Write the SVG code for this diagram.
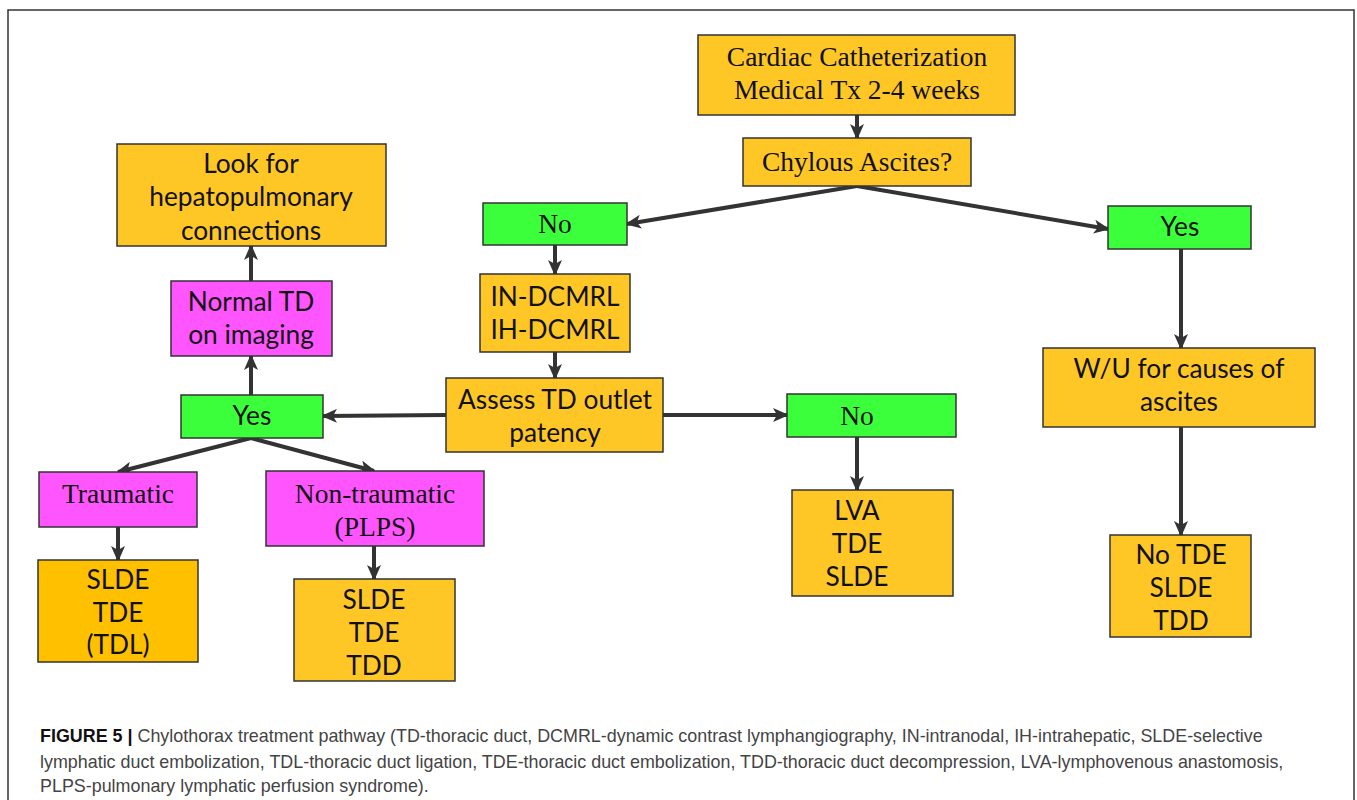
<svg xmlns="http://www.w3.org/2000/svg" width="1357" height="800" viewBox="0 0 1357 800">
<defs>
<marker id="ah" markerUnits="userSpaceOnUse" markerWidth="16" markerHeight="14" refX="14" refY="7" orient="auto">
<path d="M0,0 L16,7 L0,14 L4,7 Z" fill="#333"/>
</marker>
</defs>
<style>
.o{fill:#FFC726;stroke:#333;stroke-width:1.5}
.o2{fill:#FFC000;stroke:#333;stroke-width:1.5}
.g{fill:#3CFF3C;stroke:#333;stroke-width:1.5}
.m{fill:#FF55FF;stroke:#333;stroke-width:1.5}
.s{font-family:"Liberation Serif","Times New Roman",serif;font-size:27.5px;fill:#111;text-anchor:middle}
.a{font-family:Lato,"Open Sans",sans-serif;font-size:26.3px;fill:#111;text-anchor:middle}
.c{stroke:#333;stroke-width:4;fill:none;marker-end:url(#ah)}
.cap{font-family:"Liberation Sans",Arial,sans-serif;font-size:17.9px;fill:#444}
</style>
<rect x="0" y="0" width="1357" height="800" fill="#fff"/>
<rect x="8" y="10" width="1346" height="800" fill="none" stroke="#333" stroke-width="1.5"/>

<g id="connectors">
<line class="c" x1="857" y1="115" x2="857" y2="138"/>
<line class="c" x1="857" y1="186" x2="627" y2="224"/>
<line class="c" x1="857" y1="186" x2="1108" y2="229"/>
<line class="c" x1="555" y1="245" x2="555" y2="274"/>
<line class="c" x1="555" y1="352" x2="555" y2="378"/>
<line class="c" x1="446" y1="415" x2="323" y2="416"/>
<line class="c" x1="663" y1="415" x2="787" y2="415"/>
<line class="c" x1="857" y1="437" x2="857" y2="490"/>
<line class="c" x1="1181" y1="249" x2="1181" y2="348"/>
<line class="c" x1="1181" y1="427" x2="1181" y2="535"/>
<line class="c" x1="251" y1="395" x2="251" y2="356"/>
<line class="c" x1="251" y1="281" x2="251" y2="246"/>
<line class="c" x1="251" y1="438" x2="118" y2="472"/>
<line class="c" x1="251" y1="438" x2="374" y2="471"/>
<line class="c" x1="118" y1="527" x2="118" y2="560"/>
<line class="c" x1="374" y1="546" x2="374" y2="579"/>
</g>

<g id="cardiac"><rect class="o" x="698" y="35" width="317" height="80"/>
<text class="s" x="857" y="66">Cardiac Catheterization</text><text class="s" x="857" y="99">Medical Tx 2-4 weeks</text></g>

<g id="chylous"><rect class="o" x="743" y="138" width="228" height="48"/>
<text class="s" x="857" y="171">Chylous Ascites?</text></g>

<g id="no-top"><rect class="g" x="483" y="203" width="144" height="42"/>
<text class="s" x="555" y="233">No</text></g>

<g id="yes-right"><rect class="g" x="1108" y="206" width="143" height="43"/>
<text class="a" x="1180" y="236">Yes</text></g>

<g id="in-dcmrl"><rect class="o" x="480" y="274" width="150" height="78"/>
<text class="a" x="555" y="306">IN-DCMRL</text><text class="a" x="555" y="339">IH-DCMRL</text></g>

<g id="assess"><rect class="o" x="446" y="378" width="217" height="74"/>
<text class="a" x="555" y="409">Assess TD outlet</text><text class="a" x="555" y="442">patency</text></g>

<g id="no-mid"><rect class="g" x="787" y="394" width="169" height="43"/>
<text class="s" x="857" y="425">No</text></g>

<g id="lva"><rect class="o" x="792" y="490" width="161" height="106"/>
<text class="a" x="857" y="520">LVA</text><text class="a" x="857" y="553">TDE</text><text class="a" x="857" y="586">SLDE</text></g>

<g id="wu"><rect class="o" x="1043" y="348" width="272" height="79"/>
<text class="a" x="1179" y="378">W/U for causes of</text><text class="a" x="1179" y="411">ascites</text></g>

<g id="no-tde"><rect class="o" x="1110" y="535" width="141" height="102"/>
<text class="a" x="1181" y="564">No TDE</text><text class="a" x="1181" y="597">SLDE</text><text class="a" x="1181" y="630">TDD</text></g>

<g id="look-for"><rect class="o" x="117" y="144" width="269" height="102"/>
<text class="a" x="251" y="173">Look for</text><text class="a" x="251" y="206">hepatopulmonary</text><text class="a" x="251" y="240">connections</text></g>

<g id="normal-td"><rect class="m" x="171" y="281" width="161" height="75"/>
<text class="a" x="251" y="311">Normal TD</text><text class="a" x="251" y="344">on imaging</text></g>

<g id="yes-left"><rect class="g" x="181" y="395" width="142" height="43"/>
<text class="a" x="252" y="425">Yes</text></g>

<g id="traumatic"><rect class="m" x="39" y="472" width="158" height="55"/>
<text class="s" x="118" y="503">Traumatic</text></g>

<g id="non-traumatic"><rect class="m" x="266" y="471" width="218" height="75"/>
<text class="s" x="375" y="503">Non-traumatic</text><text class="s" x="375" y="536">(PLPS)</text></g>

<g id="slde-tdl"><rect class="o2" x="38" y="560" width="160" height="102"/>
<text class="a" x="118" y="589">SLDE</text><text class="a" x="118" y="622">TDE</text><text class="a" x="118" y="654">(TDL)</text></g>

<g id="slde-tdd"><rect class="o" x="294" y="579" width="161" height="102"/>
<text class="a" x="374" y="609">SLDE</text><text class="a" x="374" y="642">TDE</text><text class="a" x="374" y="675">TDD</text></g>

<g id="caption">
<text class="cap" x="40" y="742"><tspan font-weight="bold" fill="#111">FIGURE 5 |</tspan> Chylothorax treatment pathway (TD-thoracic duct, DCMRL-dynamic contrast lymphangiography, IN-intranodal, IH-intrahepatic, SLDE-selective</text>
<text class="cap" x="40" y="768">lymphatic duct embolization, TDL-thoracic duct ligation, TDE-thoracic duct embolization, TDD-thoracic duct decompression, LVA-lymphovenous anastomosis,</text>
<text class="cap" x="40" y="792">PLPS-pulmonary lymphatic perfusion syndrome).</text>
</g>
</svg>
